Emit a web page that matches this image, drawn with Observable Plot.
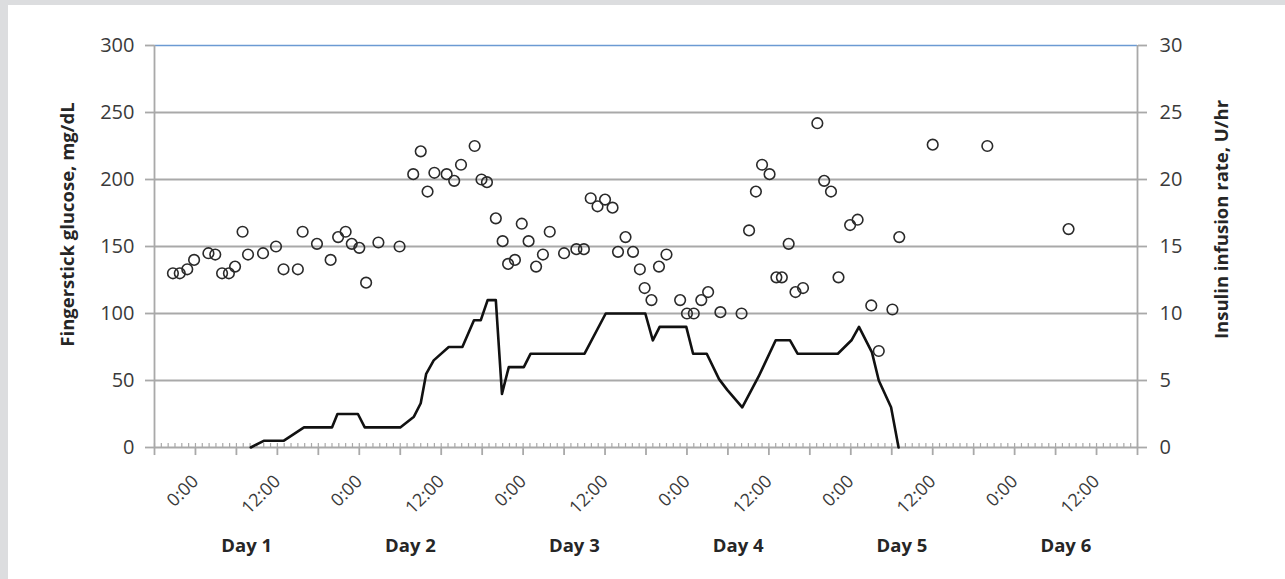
<!DOCTYPE html>
<html>
<head>
<meta charset="utf-8">
<script src="https://cdn.jsdelivr.net/npm/d3@7"></script>
<script src="https://cdn.jsdelivr.net/npm/@observablehq/plot@0.6"></script>
<style>
  html, body { margin: 0; padding: 0; background: #dcdddf; width: 1285px; height: 579px; overflow: hidden; }
  #chart { position: absolute; left: 8px; top: 5px; }
  #chart svg { display: block; background: #ffffff; }
</style>
</head>
<body>
<div id="chart"></div>
<script>
// Fingerstick glucose readings: hours since Day 1 0:00, mg/dL
const glucoseHours = [-3.3, -2.3, -1.2, -0.2, 1.9, 2.9, 3.9, 4.9, 5.8, 6.9, 7.7, 9.9, 11.8, 12.9, 15.0, 15.7, 17.8, 19.8, 20.9, 22.0, 22.9, 24.0, 25.0, 26.8, 29.9,
  31.9, 33.0, 34.0, 35.0, 36.8, 37.9, 38.9, 40.9, 41.9, 42.7, 44.0, 45.0, 45.8, 46.8, 47.8, 48.8, 49.9, 50.9, 51.9, 54.0, 55.8, 56.9,
  57.9, 58.9, 60.0, 61.1, 61.9, 63.0, 64.1, 65.1, 65.8, 66.8, 67.9, 69.0, 71.0, 72.0, 73.0, 74.1, 75.1, 76.9, 80.0,
  81.1, 82.1, 83.0, 84.1, 85.1, 85.9, 86.9, 87.9, 89.0, 91.1, 92.1, 93.1, 94.2, 95.9, 97.0, 99.0, 100.1, 102.1, 103.1,
  108.0, 116.0, 127.9];
const glucoseValues = [130, 130, 133, 140, 145, 144, 130, 130, 135, 161, 144, 145, 150, 133, 133, 161, 152, 140, 157, 161, 152, 149, 123, 153, 150,
  204, 221, 191, 205, 204, 199, 211, 225, 200, 198, 171, 154, 137, 140, 167, 154, 135, 144, 161, 145, 148, 148,
  186, 180, 185, 179, 146, 157, 146, 133, 119, 110, 135, 144, 110, 100, 100, 110, 116, 101, 100,
  162, 191, 211, 204, 127, 127, 152, 116, 119, 242, 199, 191, 127, 166, 170, 106, 72, 103, 157,
  226, 225, 163];

// Insulin infusion rate: hours since Day 1 0:00, U/hr
const insulinHours = [8.1, 10.0, 12.9, 14.4, 15.9, 20.0, 20.8, 23.8, 24.8, 30.0, 32.0, 33.0, 33.8, 34.9, 37.1, 39.1, 40.8, 41.8, 42.8, 44.0,
  44.9, 45.9, 48.1, 49.1, 57.0, 60.1, 65.9, 67.0, 68.0, 71.9, 72.9, 74.9, 76.7, 77.9, 80.1, 82.5, 85.0, 87.1, 88.2, 94.1,
  96.1, 97.2, 99.1, 100.1, 101.9, 103.0];
const insulinRates = [0, 0.5, 0.5, 1, 1.5, 1.5, 2.5, 2.5, 1.5, 1.5, 2.3, 3.3, 5.5, 6.5, 7.5, 7.5, 9.5, 9.5, 11, 11,
  4, 6, 6, 7, 7, 10, 10, 8, 9, 9, 7, 7, 5.1, 4.3, 3, 5.3, 8, 8, 7, 7,
  8, 9, 7.1, 5, 3, 0];

// Axis ticks and labels
const glucoseTicks = [0, 50, 100, 150, 200, 250, 300];
const insulinTickLabels = ["0", "5", "10", "15", "20", "25", "30"];
const timeTickHours = [0, 12, 24, 36, 48, 60, 72, 84, 96, 108, 120, 132];
const timeTickLabels = ["0:00", "12:00", "0:00", "12:00", "0:00", "12:00", "0:00", "12:00", "0:00", "12:00", "0:00", "12:00"];
const dayLabels = ["Day 1", "Day 2", "Day 3", "Day 4", "Day 5", "Day 6"];
const leftTitle = "Fingerstick glucose, mg/dL";
const rightTitle = "Insulin infusion rate, U/hr";

const glucose = glucoseHours.map((h, i) => ({h, g: glucoseValues[i]}));
const insulin = insulinHours.map((h, i) => ({h, r: insulinRates[i]}));
const xStart = -6, xEnd = 138;
const minorHours = d3.range(xStart, xEnd + 1, 1);
const majorHours = d3.range(xStart, xEnd + 1, 6);
const days = dayLabels.map((label, i) => ({label, h: i * 24 + 7.5}));
const timeTicks = timeTickHours.map((h, i) => ({h, label: timeTickLabels[i]}));

const gray = "#a9a9a9";
const textColor = "#3a3a3a";

const chart = Plot.plot({
  width: 1277,
  height: 574,
  marginLeft: 146,
  marginRight: 148,
  marginTop: 40,
  marginBottom: 132,
  x: {domain: [xStart, xEnd], axis: null},
  y: {domain: [0, 300], axis: null},
  style: {fontFamily: "'Open Sans', sans-serif", background: "#ffffff", overflow: "visible"},
  marks: [
    // horizontal gridlines
    Plot.ruleY(glucoseTicks.filter(d => d > 0 && d < 300), {stroke: gray, strokeWidth: 1.8}),
    Plot.ruleY([300], {stroke: "#6b9ad3", strokeWidth: 1.3}),
    // vertical axis lines
    Plot.ruleX([xStart, xEnd], {y1: 0, y2: 300, stroke: gray, strokeWidth: 1.8}),
    // x axis line with ticks
    Plot.ruleX(minorHours, {x: d => d, y1: 0, y2: 3, stroke: gray, strokeWidth: 1.2}),
    Plot.ruleX(majorHours, {x: d => d, y1: -6, y2: 0, stroke: gray, strokeWidth: 1.8}),
    Plot.ruleY([0], {stroke: gray, strokeWidth: 1.8}),
    // left axis
    Plot.axisY(glucoseTicks, {anchor: "left", tickSize: 9, tickPadding: 11, fontSize: 20, stroke: gray, strokeWidth: 1.8, fill: textColor, label: null}),
    // right axis (insulin, 0-30 mapped onto 0-300)
    Plot.axisY(glucoseTicks, {anchor: "right", tickSize: 9, tickPadding: 13, fontSize: 20, stroke: gray, strokeWidth: 1.8, fill: textColor,
      tickFormat: d => insulinTickLabels[glucoseTicks.indexOf(d)], label: null}),
    // time tick labels
    Plot.text(timeTicks, {x: "h", y: 0, text: "label", rotate: -45, textAnchor: "end", dx: 0, dy: 31, fontSize: 18, fill: textColor}),
    // day labels
    Plot.text(days, {x: "h", y: 0, text: "label", dy: 99, fontSize: 18.5, fontWeight: "bold", fill: "#262626"}),
    // axis titles
    Plot.text([leftTitle], {frameAnchor: "left", textAnchor: "middle", rotate: -90, dx: -86, dy: -22, fontSize: 18.5, fontWeight: "bold", fill: "#262626"}),
    Plot.text([rightTitle], {frameAnchor: "right", textAnchor: "middle", rotate: -90, dx: 85, dy: -27, fontSize: 18.5, fontWeight: "bold", fill: "#262626"}),
    // insulin infusion line
    Plot.line(insulin, {x: "h", y: d => d.r * 10, stroke: "#111111", strokeWidth: 2.6, strokeLinejoin: "round"}),
    // glucose points
    Plot.dot(glucose, {x: "h", y: "g", r: 5.3, stroke: "#2a2a2a", strokeWidth: 1.6, fill: "none"})
  ]
});
document.getElementById("chart").appendChild(chart);
</script>
</body>
</html>
